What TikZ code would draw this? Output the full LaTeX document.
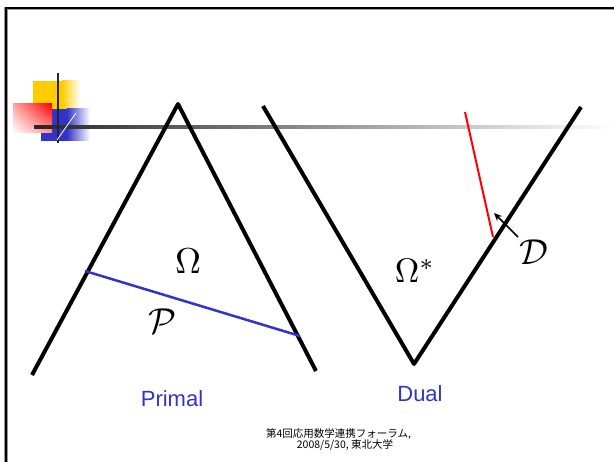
\documentclass[tikz,border=0pt]{standalone}
\usepackage{fontspec}
\newfontfamily\lsans{Liberation Sans}
\newfontfamily\cjk{Noto Sans CJK JP}
\usetikzlibrary{arrows.meta,shadings}
\definecolor{pblue}{RGB}{51,51,204}
\definecolor{lyellow}{RGB}{255,204,0}
\begin{document}
\begin{tikzpicture}[x=1pt,y=-1pt,
  thick line/.style={line width=4pt, line join=round},
  big math/.style={inner sep=0pt, scale=#1},
  label text/.style={text=pblue, inner sep=0pt, font=\lsans\fontsize{22}{22}\selectfont},
  foot text/.style={inner sep=0pt, font=\cjk\fontsize{10.5}{12}\selectfont}]
\useasboundingbox (0,0) rectangle (614,462);
\fill[white] (0,0) rectangle (614,462);
% frame
\draw[black!40, line width=3.5pt] (6,462) -- (6,8.5) -- (614,8.5);
\draw[black, line width=2pt] (6,462) -- (6,8.5) -- (614,8.5);
% logo
\fill[lyellow] (33,81) rectangle (62,109);
\shade[left color=lyellow, right color=white] (61.9,81) rectangle (80,109);
\fill[pblue] (41,109) rectangle (67,141);
\shade[left color=pblue, right color=white] (66.9,109) rectangle (90,141);
\shade[upper right=red, upper left=red!35!white, lower right=red!40!white, lower left=white] (13,104) rectangle (52,133);
\shade[left color=black!85, middle color=black!40, right color=white] (34,125.5) rectangle (614,128.5);
\draw[black!85, line width=2.5pt] (58,73) -- (58,143);
\draw[white, line width=0.8pt] (57,140) -- (76,113);
% primal
\draw[thick line] (32,375) -- (178,104) -- (316,371);
\draw[pblue, line width=2.5pt] (85,271) -- (300,336);
% dual
\draw[thick line] (263,106) -- (414,364) -- (581,107);
\draw[red, line width=2pt] (465,112) -- (493,237);
\coordinate (tail) at (518,237);
\coordinate (head) at (494,213);
\draw[line width=1.5pt, -{Stealth[length=8pt,width=7pt]}] (tail) -- (head);
% labels
\node[big math=3.6] (om) at (188,261) {$\Omega$};
\node[big math=3.6] (pp) at (162,321) {$\mathcal{P}$};
\node[big math=3.4] (oms) at (415,271) {$\Omega^*$};
\node[big math=3.6] (dd) at (534,252) {$\mathcal{D}$};
\node[label text] (primal) at (172,399) {Primal};
\node[label text] (dual) at (420,394) {Dual};
\node[foot text] (f1) at (338.5,434) {第4回応用数学連携フォーラム,};
\node[foot text] (f2) at (345,445) {2008/5/30, 東北大学};
\end{tikzpicture}
\end{document}
